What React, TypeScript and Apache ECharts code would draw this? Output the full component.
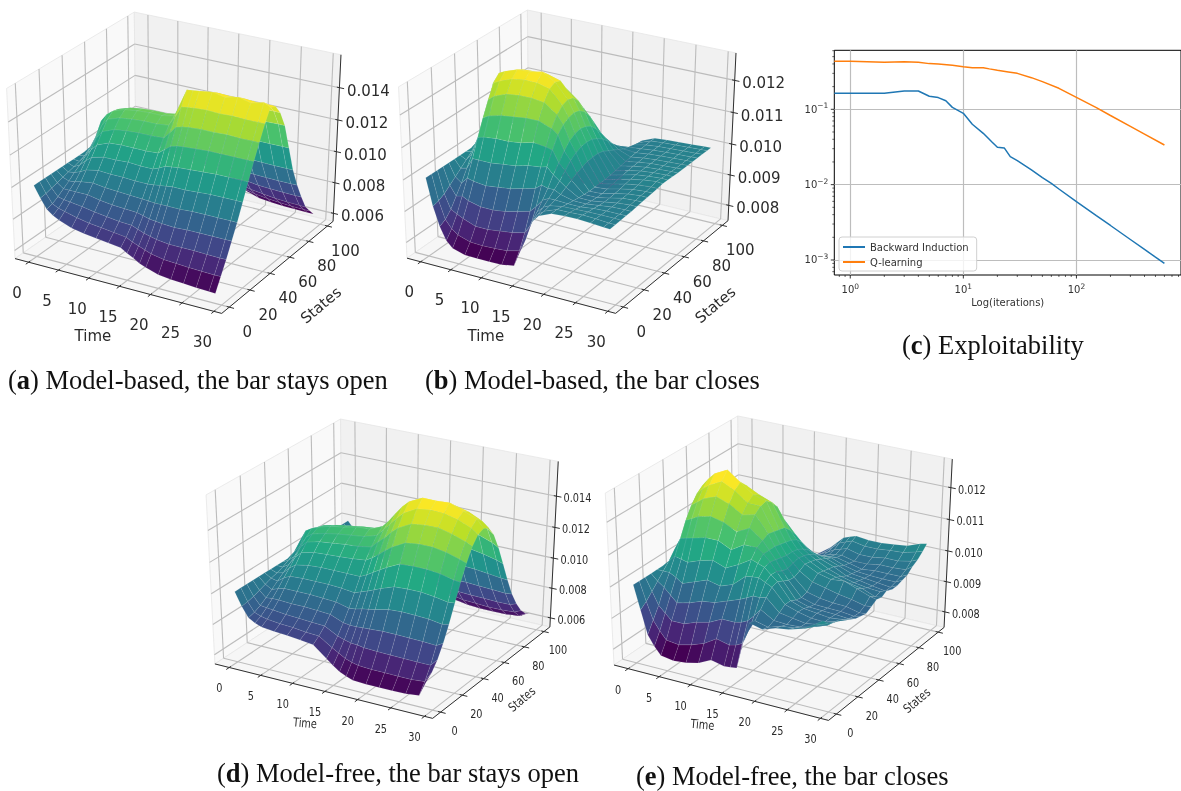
import React, { useEffect, useRef } from "react";
import * as echarts from "echarts";

// ---------- data (values of the surfaces in 1e-5 units, rows = time, columns = state) ----------
const TIME_GRID = [0, 1, 2, 3, 4, 6, 8, 10, 12, 14, 15, 16, 17, 18, 20, 22, 24, 26, 28, 29];
const STATE_GRID = [0, 5, 10, 15, 20, 25, 30, 35, 40, 45, 50, 55, 60, 65, 70, 75, 80, 85, 90, 95, 99];
const TIME_TICKS = [0, 5, 10, 15, 20, 25, 30];
const STATE_TICKS = [0, 20, 40, 60, 80, 100];
const Z_TICKS_OPEN = [0.006, 0.008, 0.01, 0.012, 0.014];
const Z_TICKS_CLOSE = [0.008, 0.009, 0.01, 0.011, 0.012];

const SURFACE_A = [
  [1000,1000,1000,1000,1000,1000,1000,1000,1000,1000,1000,1000,1000,1000,1000,1000,1000,1000,1000,1000,1000],
  [930,935,945,955,965,975,985,995,1010,1040,1080,1070,1050,1030,1015,1002,985,965,950,935,925],
  [870,880,900,925,950,980,1005,1035,1065,1110,1190,1170,1125,1080,1040,1005,970,940,905,880,860],
  [840,860,890,925,955,995,1040,1085,1135,1190,1240,1230,1185,1130,1075,1025,975,930,890,855,835],
  [820,850,885,925,965,1015,1070,1125,1185,1240,1270,1260,1225,1170,1105,1040,975,925,880,840,815],
  [790,830,875,925,975,1030,1090,1155,1215,1265,1295,1285,1250,1190,1115,1035,965,905,855,815,785],
  [775,815,860,910,965,1025,1090,1160,1225,1275,1305,1295,1260,1195,1115,1030,955,895,840,800,770],
  [765,805,850,900,960,1025,1095,1160,1230,1280,1310,1300,1265,1195,1115,1030,950,885,830,790,760],
  [755,795,840,895,955,1020,1090,1160,1230,1280,1310,1300,1265,1195,1115,1025,945,880,825,785,750],
  [745,785,835,890,950,1020,1090,1165,1235,1290,1325,1315,1280,1210,1125,1030,945,875,820,775,740],
  [720,765,820,880,948,1025,1105,1195,1275,1350,1410,1395,1340,1250,1140,1030,938,862,800,755,715],
  [700,750,805,870,945,1030,1125,1225,1320,1420,1500,1475,1405,1290,1155,1030,930,850,785,735,695],
  [675,735,795,865,945,1035,1130,1235,1330,1425,1505,1480,1412,1300,1158,1025,920,838,768,712,672],
  [660,720,785,860,945,1040,1135,1240,1335,1430,1510,1485,1420,1310,1162,1020,910,825,750,695,655],
  [635,705,775,855,945,1040,1140,1245,1340,1435,1520,1495,1425,1315,1165,1015,900,810,730,675,630],
  [625,700,775,860,950,1045,1145,1250,1340,1430,1505,1490,1425,1320,1170,1015,895,800,720,665,620],
  [620,695,775,860,950,1050,1150,1250,1345,1435,1525,1495,1430,1325,1170,1012,892,795,710,658,615],
  [615,692,772,860,950,1050,1150,1250,1340,1430,1505,1490,1430,1328,1170,1010,890,792,705,652,612],
  [612,690,770,860,950,1050,1150,1250,1340,1430,1525,1490,1430,1330,1170,1010,890,790,702,650,610],
  [610,690,770,860,950,1050,1150,1250,1340,1430,1505,1490,1430,1330,1170,1010,890,790,700,650,610],
];
const SURFACE_B = [
  [1000,1000,1000,1000,1000,1000,1000,1000,1000,1000,1000,1000,1000,1000,1000,1000,1000,1000,1000,1000,1000],
  [915,920,930,945,960,975,990,1005,1025,1060,1110,1095,1075,1050,1025,1005,985,965,945,925,910],
  [855,865,885,915,945,980,1015,1050,1090,1135,1190,1170,1130,1090,1050,1015,975,940,905,875,850],
  [815,840,875,920,965,1015,1070,1120,1165,1205,1225,1215,1175,1125,1075,1018,960,910,870,835,812],
  [795,825,865,910,960,1015,1075,1130,1180,1215,1235,1225,1190,1140,1080,1015,955,900,860,820,790],
  [783,812,850,900,955,1015,1080,1140,1195,1230,1248,1238,1205,1150,1085,1015,950,895,845,810,780],
  [782,810,850,900,960,1020,1080,1145,1200,1235,1250,1240,1205,1155,1085,1020,955,895,845,808,780],
  [782,812,855,905,965,1025,1085,1150,1200,1235,1258,1240,1205,1155,1085,1025,960,900,850,812,782],
  [783,815,860,915,975,1035,1095,1150,1195,1225,1235,1228,1195,1150,1090,1030,970,910,860,815,783],
  [790,825,870,925,985,1040,1090,1135,1165,1183,1190,1185,1165,1130,1085,1035,980,925,870,825,790],
  [840,865,900,945,1000,1045,1085,1120,1140,1150,1155,1150,1135,1110,1075,1035,990,945,905,870,840],
  [905,925,945,970,995,1025,1050,1075,1095,1105,1110,1105,1095,1075,1050,1022,995,970,945,925,905],
  [945,955,965,980,995,1010,1030,1050,1062,1070,1072,1070,1060,1048,1030,1010,992,978,962,950,942],
  [968,970,975,980,985,995,1005,1015,1022,1028,1030,1030,1025,1015,1005,995,985,980,975,970,968],
  [985,985,982,978,975,972,970,968,968,968,968,970,972,975,978,980,982,983,984,985,985],
  [988,986,983,978,975,972,970,970,972,975,978,980,982,984,985,986,987,988,988,988,988],
  [988,988,985,983,980,978,978,980,982,985,988,990,990,990,990,990,990,990,990,990,990],
  [986,986,985,985,985,985,987,988,990,992,995,995,994,993,992,992,992,992,992,992,992],
  [983,983,985,985,986,988,990,992,993,995,1000,998,996,995,994,994,994,994,994,994,994],
  [982,983,984,985,986,988,990,992,993,995,998,997,996,995,995,995,995,995,995,995,995],
];
const SURFACE_D = [
  [1000,1000,1000,1000,1000,1000,1000,1000,1000,1000,1000,1000,1000,1000,1000,1000,1000,1000,1000,1000,1000],
  [915,920,930,945,960,975,985,1000,1020,1050,1095,1080,1060,1040,1022,1010,995,980,965,955,950],
  [850,860,880,905,935,965,995,1025,1055,1100,1175,1150,1110,1075,1045,1020,985,955,925,905,890],
  [825,845,875,910,950,995,1035,1080,1125,1165,1200,1185,1150,1110,1065,1015,970,930,895,870,850],
  [810,835,870,910,960,1015,1065,1120,1165,1195,1215,1205,1175,1130,1075,1015,960,910,870,840,815],
  [800,825,860,905,960,1020,1080,1140,1185,1215,1240,1225,1190,1140,1080,1015,955,905,860,825,800],
  [795,820,855,905,960,1020,1085,1145,1195,1230,1250,1238,1200,1150,1085,1015,950,895,850,815,790],
  [785,810,850,900,955,1020,1085,1150,1205,1240,1270,1250,1210,1155,1085,1015,945,885,840,805,780],
  [775,805,845,895,950,1015,1085,1155,1210,1250,1275,1258,1218,1160,1085,1010,940,880,830,795,770],
  [705,750,800,860,930,1005,1085,1165,1225,1275,1310,1285,1240,1175,1090,1000,920,850,790,745,700],
  [670,725,785,855,935,1020,1105,1190,1265,1320,1355,1335,1280,1205,1105,1005,912,835,770,720,675],
  [640,700,775,855,945,1035,1130,1220,1300,1365,1410,1380,1320,1235,1125,1010,905,820,750,695,655],
  [620,685,772,858,952,1052,1155,1255,1345,1410,1460,1425,1360,1262,1138,1012,898,805,730,672,637],
  [605,675,765,860,960,1070,1180,1285,1380,1450,1500,1465,1390,1285,1150,1015,890,790,710,650,620],
  [600,670,760,865,980,1100,1220,1330,1425,1495,1540,1500,1425,1310,1165,1010,880,775,695,635,608],
  [600,670,758,865,985,1105,1225,1340,1435,1505,1540,1510,1435,1320,1170,1015,880,770,690,630,605],
  [600,668,756,862,982,1105,1225,1340,1435,1500,1545,1505,1430,1315,1165,1010,875,768,685,628,603],
  [602,668,755,860,978,1095,1215,1325,1415,1480,1510,1485,1410,1295,1150,1000,870,765,685,630,608],
  [612,675,755,855,965,1080,1195,1300,1385,1445,1480,1445,1375,1265,1130,990,865,765,690,640,625],
  [710,745,800,880,975,1085,1190,1285,1365,1415,1430,1410,1345,1240,1115,985,870,780,710,665,650],
];
const SURFACE_E = [
  [1000,1000,1000,1000,1000,1000,1000,1000,1000,1000,1000,1000,1000,1000,1000,1000,1000,1000,1000,1000,1000],
  [925,940,960,980,1000,1020,1045,1065,1085,1100,1110,1095,1075,1055,1035,1015,998,985,975,968,965],
  [850,885,920,965,1000,1040,1085,1130,1165,1190,1205,1185,1150,1110,1070,1030,995,970,950,938,930],
  [818,855,900,945,990,1035,1090,1140,1180,1210,1230,1205,1165,1120,1075,1025,982,945,920,900,890],
  [793,830,880,925,975,1030,1095,1150,1195,1225,1250,1225,1185,1135,1075,1020,970,925,895,875,860],
  [786,825,880,935,990,1045,1105,1160,1210,1245,1270,1235,1195,1145,1080,1010,950,900,860,835,820],
  [790,835,895,950,1005,1055,1105,1150,1195,1225,1240,1220,1185,1140,1075,1010,950,900,865,845,830],
  [800,850,905,955,995,1040,1085,1130,1170,1195,1210,1200,1175,1130,1070,1005,955,920,895,885,880],
  [820,875,925,970,1010,1060,1110,1150,1180,1195,1200,1185,1160,1115,1060,1005,965,940,925,920,920],
  [810,865,925,985,1045,1085,1110,1120,1130,1125,1120,1115,1095,1070,1035,995,970,955,950,948,950],
  [812,870,930,995,1048,1078,1095,1095,1095,1090,1085,1080,1070,1050,1022,992,972,960,960,965,970],
  [815,880,940,1005,1050,1070,1075,1070,1065,1060,1060,1055,1045,1030,1010,990,975,968,972,982,990],
  [900,925,960,1005,1040,1052,1050,1040,1035,1040,1045,1040,1032,1020,1005,990,978,972,978,990,998],
  [968,962,985,1010,1030,1035,1025,1015,1012,1020,1030,1025,1020,1010,1000,990,980,975,985,998,1005],
  [958,952,960,972,985,985,975,970,975,995,1010,1005,1000,995,985,975,970,965,975,990,1000],
  [972,965,958,965,972,970,962,958,965,985,1000,995,985,975,970,965,960,965,975,990,1000],
  [978,970,960,958,962,965,960,956,960,975,1005,985,975,970,965,962,965,972,982,995,1005],
  [990,980,970,965,960,960,958,955,958,968,990,978,968,962,960,960,965,972,982,997,1010],
  [1015,1000,985,980,972,965,955,950,948,958,975,962,965,955,955,960,965,975,990,1008,1025],
  [1030,1010,1000,995,980,970,960,955,950,960,970,965,975,965,965,970,975,990,1000,1015,1030],
];

const BACKWARD_X = [0.7225,1,2,3,4,5,6,7,8,10,12,15,18,20,23,26,30,40,50,60,70,100,150,200,300,400,500,600];
const BACKWARD_Y = [0.163,0.163,0.163,0.175,0.175,0.149,0.143,0.13,0.106,0.0885,0.0633,0.048,0.0365,0.0313,0.0307,0.0235,0.0208,0.0157,0.0124,0.0104,0.00875,0.00594,0.00387,0.00287,0.00187,0.00138,0.00109,0.0009];
const QLEARN_X = [0.7225,1,2,3,4,5,6,8,10,12,15,17,20,25,30,40,50,70,100,150,200,300,400,600];
const QLEARN_Y = [0.433,0.433,0.42,0.428,0.42,0.404,0.4,0.384,0.368,0.357,0.357,0.344,0.33,0.313,0.3,0.263,0.233,0.19,0.144,0.105,0.0828,0.0594,0.0469,0.0336];
const MINOR_X = [0.8,0.9,2,3,4,5,6,7,8,9,20,30,40,50,60,70,80,90,200,300,400,500,600,700,800];
const MAJOR_X = [1,10,100];
const MINOR_Y = [0.0007,0.0008,0.0009,0.002,0.003,0.004,0.005,0.006,0.007,0.008,0.009,0.02,0.03,0.04,0.05,0.06,0.07,0.08,0.09,0.2,0.3,0.4,0.5,0.6];
const MAJOR_Y = [0.001,0.01,0.1];

const CAPTIONS = [
  { letter: "a", text: " Model-based, the bar stays open", x: 8, y: 380 },
  { letter: "b", text: " Model-based, the bar closes", x: 425, y: 380 },
  { letter: "c", text: " Exploitability", x: 902, y: 345 },
  { letter: "d", text: " Model-free, the bar stays open", x: 217, y: 773 },
  { letter: "e", text: " Model-free, the bar closes", x: 636, y: 776 },
];

// ---------- layout of the panels (matplotlib view elev=30, azim=-60) ----------
const X_PANE = [-2.3, 31.2];
const Y_PANE = [-7.2, 106.2];
const PANELS = [
  { values: SURFACE_A, zTicks: Z_TICKS_OPEN, zPane: [0.00547, 0.016], sx: 238.6, tx: 176.5, sy: 194.3, ty: 157.6,
    font: 15, sc: 1, xOff: [-11.5, 30.5], yOff: [18, 25], zOff: [29, 3], timeOff: [-26.6, 50], statesOff: [41, 40], timeRot: 0 },
  { values: SURFACE_B, zTicks: Z_TICKS_CLOSE, zPane: [0.00749, 0.01284], sx: 240.8, tx: 570, sy: 195.6, ty: 156.5,
    font: 15, sc: 1, xOff: [-11.5, 30.5], yOff: [18, 25], zOff: [29, 3], timeOff: [-26.6, 50], statesOff: [41, 40], timeRot: 0 },
  { values: SURFACE_D, zTicks: Z_TICKS_OPEN, zPane: [0.00538, 0.01618], sx: 251.3, tx: 385, sy: 193, ty: 563.6,
    font: 12.5, sc: 0.78, xOff: [-10, 21], yOff: [14, 19], zOff: [21, 2], timeOff: [-20, 32], statesOff: [28, 29], timeRot: -5 },
  { values: SURFACE_E, zTicks: Z_TICKS_CLOSE, zPane: [0.00748, 0.01288], sx: 247.6, tx: 781.6, sy: 196.3, ty: 563,
    font: 12.5, sc: 0.78, xOff: [-10, 21], yOff: [14, 19], zOff: [21, 2], timeOff: [-20, 32], statesOff: [28, 29], timeRot: -5 },
];
const X_RANGE = [-0.72, 0.72];
const Y_RANGE = [-0.82, 0.76];

const VIRIDIS = [[68,1,84],[72,36,117],[65,68,135],[53,95,141],[42,120,142],[33,145,140],[34,168,132],[68,191,112],[122,209,81],[189,223,38],[253,231,37]];
function viridis(t: number) {
  const c = Math.max(0, Math.min(0.9999, t)) * (VIRIDIS.length - 1);
  const i = Math.floor(c), f = c - i;
  const a = VIRIDIS[i], b = VIRIDIS[i + 1];
  return `rgb(${a.map((v, k) => Math.round(v + (b[k] - v) * f)).join(",")})`;
}

function project(x: number, y: number, z: number) {
  const dx = x - 0.5, dy = y - 0.5, dz = z - 0.5;
  const u = 0.866025 * dx + 0.5 * dy;
  const v = -0.25 * dx + 0.433013 * dy + 0.866025 * dz;
  const n = 0.433013 * dx - 0.75 * dy + 0.5 * dz;
  const k = 10 / (10 - n);
  return [u * k, v * k];
}
function depth(x: number, y: number, z: number) {
  return 0.433013 * (x - 0.5) - 0.75 * (y - 0.5) + 0.5 * (z - 0.5);
}
const nx = (v: number) => (v - X_PANE[0]) / (X_PANE[1] - X_PANE[0]);
const ny = (v: number) => (v - Y_PANE[0]) / (Y_PANE[1] - Y_PANE[0]);

function surfaceSeries(panel: any, idx: number) {
  const nz = (v: number) => (v * 1e-5 - panel.zPane[0]) / (panel.zPane[1] - panel.zPane[0]);
  const facets: any[] = [];
  const vals = panel.values;
  for (let i = 0; i < TIME_GRID.length - 1; i++) {
    for (let j = 0; j < STATE_GRID.length - 1; j++) {
      const corners = [[i, j], [i + 1, j], [i + 1, j + 1], [i, j + 1]].map(([a, b]) => [nx(TIME_GRID[a]), ny(STATE_GRID[b]), nz(vals[a][b]), vals[a][b]]);
      const avg = corners.reduce((s, c) => s + c[3], 0) / 4;
      const d = corners.reduce((s, c) => s + depth(c[0], c[1], c[2]), 0) / 4;
      facets.push({ corners, avg, d });
    }
  }
  facets.sort((a, b) => a.d - b.d);
  const lo = Math.min(...facets.map((f) => f.avg));
  const hi = Math.max(...facets.map((f) => f.avg));
  return {
    type: "custom",
    xAxisIndex: idx,
    yAxisIndex: idx,
    silent: true,
    z: 3,
    clip: false,
    data: facets.map((_, i) => [i, 0]),
    renderItem: (params: any, api: any) => {
      const f = facets[api.value(0)];
      const fill = viridis((f.avg - lo) / (hi - lo));
      return {
        type: "polygon",
        shape: { points: f.corners.map((c: number[]) => api.coord(project(c[0], c[1], c[2]))) },
        style: { fill, stroke: "rgba(225,235,235,0.16)", lineWidth: 0.6 },
      };
    },
  };
}

function decorSeries(panel: any, idx: number) {
  const nz = (v: number) => (v - panel.zPane[0]) / (panel.zPane[1] - panel.zPane[0]);
  return {
    type: "custom",
    xAxisIndex: idx,
    yAxisIndex: idx,
    silent: true,
    z: 2,
    clip: false,
    data: [[0, 0]],
    renderItem: (params: any, api: any) => {
      const P = (x: number, y: number, z: number) => api.coord(project(x, y, z));
      const children: any[] = [];
      const pane = (pts: number[][], fill: string) =>
        children.push({ type: "polygon", shape: { points: pts.map((p) => P(p[0], p[1], p[2])) }, style: { fill, stroke: "#e6e6e6", lineWidth: 0.8 } });
      pane([[0,0,0],[0,1,0],[0,1,1],[0,0,1]], "#f9f9f9");
      pane([[0,1,0],[1,1,0],[1,1,1],[0,1,1]], "#f1f1f1");
      pane([[0,0,0],[1,0,0],[1,1,0],[0,1,0]], "#f6f6f6");
      const line = (a: number[], b: number[], stroke: string, lineWidth: number) =>
        children.push({ type: "line", shape: { x1: a[0], y1: a[1], x2: b[0], y2: b[1] }, style: { stroke, lineWidth } });
      const GRID = "#bcbcbc";
      TIME_TICKS.forEach((t) => {
        const x = nx(t);
        line(P(x, 0, 0), P(x, 1, 0), GRID, 1.1);
        line(P(x, 1, 0), P(x, 1, 1), GRID, 1.1);
      });
      STATE_TICKS.forEach((s) => {
        const y = ny(s);
        line(P(1, y, 0), P(0, y, 0), GRID, 1.1);
        line(P(0, y, 0), P(0, y, 1), GRID, 1.1);
      });
      panel.zTicks.forEach((v: number) => {
        const z = nz(v);
        line(P(0, 0, z), P(0, 1, z), GRID, 1.1);
        line(P(0, 1, z), P(1, 1, z), GRID, 1.1);
      });
      const AX = "#303030";
      line(P(0, 0, 0), P(1, 0, 0), AX, 1);
      line(P(1, 0, 0), P(1, 1, 0), AX, 1);
      line(P(1, 1, 0), P(1, 1, 1), AX, 1);
      const text = (str: string, pos: number[], off: number[], rotationDeg = 0) =>
        children.push({
          type: "text",
          x: pos[0] + off[0],
          y: pos[1] + off[1],
          rotation: (rotationDeg * Math.PI) / 180,
          scaleX: panel.sc,
          style: { text: str, fontFamily: "DejaVu Sans", fontSize: panel.font, fill: "#2b2b2b", align: "center", verticalAlign: "middle" },
        });
      TIME_TICKS.forEach((t) => {
        const x = nx(t);
        line(P(x, 0.012, 0), P(x, -0.022, 0), AX, 1);
        text(String(t), P(x, 0, 0), panel.xOff);
      });
      STATE_TICKS.forEach((s) => {
        const y = ny(s);
        line(P(0.988, y, 0), P(1.022, y, 0), AX, 1);
        text(String(s), P(1, y, 0), panel.yOff);
      });
      panel.zTicks.forEach((v: number) => {
        const z = nz(v);
        line(P(0.988, 1, z), P(1.022, 1, z), AX, 1);
        text(v.toFixed(3), P(1, 1, z), panel.zOff);
      });
      text("Time", P(nx(15), 0, 0), panel.timeOff, panel.timeRot);
      text("States", P(1, ny(50), 0), panel.statesOff, 40);
      return { type: "group", children };
    },
  };
}

const pairs = (xs: number[], ys: number[]) => xs.map((x, i) => [x, ys[i]]);

function buildOption() {
  const C_LOGX = 4;
  const grids: any[] = PANELS.map((p) => ({
    left: p.tx + X_RANGE[0] * p.sx,
    top: p.ty - Y_RANGE[1] * p.sy,
    width: (X_RANGE[1] - X_RANGE[0]) * p.sx,
    height: (Y_RANGE[1] - Y_RANGE[0]) * p.sy,
    show: false,
  }));
  grids.push({ left: 834.3, top: 50.3, width: 347.5, height: 224.7, show: true, borderColor: "#000", borderWidth: 1, backgroundColor: "transparent" });
  const hiddenX = PANELS.map((_, i) => ({ type: "value", gridIndex: i, min: X_RANGE[0], max: X_RANGE[1], show: false }));
  const hiddenY = PANELS.map((_, i) => ({ type: "value", gridIndex: i, min: Y_RANGE[0], max: Y_RANGE[1], show: false }));
  const rich = { s: { fontSize: 7.5, fontFamily: "DejaVu Sans", color: "#333", padding: [0, 0, 7, 0] }, n: { fontSize: 10, fontFamily: "DejaVu Sans", color: "#333" } };
  const supLabel = (v: number) => {
    const e = Math.round(Math.log10(v));
    if (Math.abs(Math.log10(v) - e) > 1e-6) return "";
    return `{n|10}{s|${e < 0 ? "\u2212" + -e : e}}`;
  };
  const series: any[] = [];
  PANELS.forEach((p, i) => {
    series.push(decorSeries(p, i));
    series.push(surfaceSeries(p, i));
  });
  series.push({ type: "line", name: "Backward Induction", xAxisIndex: C_LOGX, yAxisIndex: C_LOGX, data: pairs(BACKWARD_X, BACKWARD_Y), showSymbol: false, lineStyle: { width: 1.5, color: "#1f77b4" }, itemStyle: { color: "#1f77b4" }, z: 5 });
  series.push({ type: "line", name: "Q-learning", xAxisIndex: C_LOGX, yAxisIndex: C_LOGX, data: pairs(QLEARN_X, QLEARN_Y), showSymbol: false, lineStyle: { width: 1.5, color: "#ff7f0e" }, itemStyle: { color: "#ff7f0e" }, z: 5 });
  series.push({
    type: "custom",
    xAxisIndex: C_LOGX,
    yAxisIndex: C_LOGX,
    silent: true,
    clip: false,
    z: 4,
    data: [[1, 0.1]],
    renderItem: (params: any, api: any) => {
      const children: any[] = [];
      const tick = (a: number[], dx: number, dy: number, w: number) =>
        children.push({ type: "line", shape: { x1: a[0], y1: a[1], x2: a[0] + dx, y2: a[1] + dy }, style: { stroke: "#000", lineWidth: w } });
      const yb = 6.32e-4, xl = 0.7225;
      MINOR_X.forEach((v) => tick(api.coord([v, yb]), 0, 2, 0.6));
      MAJOR_X.forEach((v) => tick(api.coord([v, yb]), 0, 3.5, 0.8));
      MINOR_Y.forEach((v) => tick(api.coord([xl, v]), -2, 0, 0.6));
      MAJOR_Y.forEach((v) => tick(api.coord([xl, v]), -3.5, 0, 0.8));
      return { type: "group", children };
    },
  });
  const logAxisCommon = {
    type: "log",
    logBase: 10,
    gridIndex: C_LOGX,
    axisLine: { show: false },
    axisTick: { show: false },
    splitLine: { show: true, showMinLine: false, showMaxLine: false, lineStyle: { color: "#bdbdbd", width: 1.2 } },
    axisLabel: { formatter: supLabel, rich, showMinLabel: false, showMaxLabel: false, margin: 6, color: "#333" },
  };
  return {
    animation: false,
    backgroundColor: "#ffffff",
    legend: {
      data: ["Backward Induction", "Q-learning"],
      orient: "vertical",
      left: 839,
      top: 237,
      itemWidth: 22,
      itemHeight: 2,
      itemGap: 5,
      icon: "rect",
      padding: [5, 8, 4, 4],
      borderColor: "#d0d0d0",
      borderWidth: 1,
      borderRadius: 3,
      backgroundColor: "rgba(255,255,255,0.8)",
      textStyle: { fontFamily: "DejaVu Sans", fontSize: 10, color: "#333" },
      selectedMode: false,
      z: 20,
    },
    grid: grids,
    xAxis: [...hiddenX, { ...logAxisCommon, min: 0.7225, max: 841, position: "bottom", axisLabel: { ...logAxisCommon.axisLabel, margin: 7 } }],
    yAxis: [...hiddenY, { ...logAxisCommon, min: 6.32e-4, max: 0.607, position: "left" }],
    series,
    graphic: {
      elements: [
        ...CAPTIONS.map((c) => ({
          type: "text",
          x: c.x,
          y: c.y,
          silent: true,
          style: {
            text: `({b|${c.letter}})${c.text}`,
            rich: { b: { fontFamily: "Liberation Serif", fontSize: 26.5, fontWeight: "bold", fill: "#111" } },
            fontFamily: "Liberation Serif",
            fontSize: 26.5,
            fill: "#111",
            verticalAlign: "middle",
          },
        })),
        {
          type: "text",
          x: 1007.7,
          y: 302,
          silent: true,
          style: { text: "Log(iterations)", fontFamily: "DejaVu Sans", fontSize: 10, fill: "#333", align: "center", verticalAlign: "middle" },
        },
      ],
    },
  };
}

export default function App() {
  const ref = useRef<HTMLDivElement>(null);
  useEffect(() => {
    const chart = echarts.init(ref.current!, undefined, { renderer: "svg" });
    chart.setOption(buildOption() as any);
    return () => chart.dispose();
  }, []);
  return <div ref={ref} style={{ position: "fixed", left: 0, top: 0, width: 1181, height: 791, filter: "blur(0.4px)" }} />;
}
